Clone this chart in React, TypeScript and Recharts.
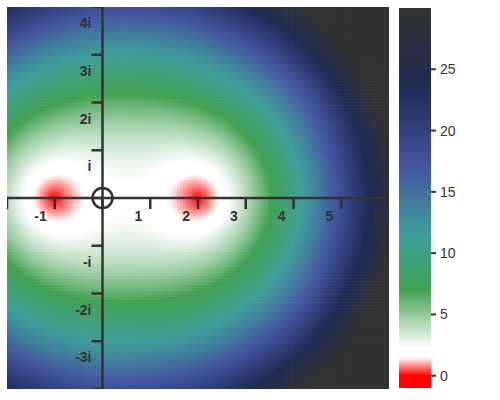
import React from "react";
import { ScatterChart, Scatter, XAxis, YAxis, BarChart, Bar } from "recharts";

// plane window of the plot
const X_DOMAIN = [-2, 6];
const Y_DOMAIN = [-4, 4];
const ROOTS = [-1, 2];
const STEP = 1 / 16;

const REAL_TICKS = [-2, -1, 0, 1, 2, 3, 4, 5, 6];
const REAL_LABELS = ["", "-1", "", "1", "2", "3", "4", "5", "6"];
const IMAG_TICKS = [-4, -3, -2, -1, 0, 1, 2, 3, 4];
const IMAG_LABELS = ["", "-3i", "-2i", "-i", "", "i", "2i", "3i", "4i"];

// colour scale for |f(z)|
const SCALE_VALUES = [-1, 0, 1.5, 2.3, 7, 11.3, 17, 23.5, 30];
const SCALE_COLORS = ["#ff0000", "#ff0000", "#ffffff", "#ffffff", "#42a052", "#3f9f9a", "#4356a0", "#1f2a55", "#333333"];
const BAR_RANGE = [-1, 30];
const BAR_TICKS = [0, 5, 10, 15, 20, 25];

const INK = "#333333";
const FONT = "'Liberation Sans', Arial, sans-serif";
const PLOT = 382;
const CELL_PX = (PLOT / (X_DOMAIN[1] - X_DOMAIN[0])) * STEP + 0.6;

function hexRgb(h: string) {
  return [1, 3, 5].map((i) => parseInt(h.slice(i, i + 2), 16));
}

function colorFor(v: number) {
  if (v <= SCALE_VALUES[0]) return SCALE_COLORS[0];
  for (let i = 1; i < SCALE_VALUES.length; i++) {
    if (v <= SCALE_VALUES[i]) {
      const t = (v - SCALE_VALUES[i - 1]) / (SCALE_VALUES[i] - SCALE_VALUES[i - 1]);
      const a = hexRgb(SCALE_COLORS[i - 1]);
      const b = hexRgb(SCALE_COLORS[i]);
      const c = a.map((x, k) => Math.round(x + (b[k] - x) * t));
      return `rgb(${c[0]},${c[1]},${c[2]})`;
    }
  }
  return SCALE_COLORS[SCALE_COLORS.length - 1];
}

const cells: { x: number; y: number; fill: string }[] = [];
const nx = Math.round((X_DOMAIN[1] - X_DOMAIN[0]) / STEP);
const ny = Math.round((Y_DOMAIN[1] - Y_DOMAIN[0]) / STEP);
for (let j = 0; j < ny; j++) {
  for (let i = 0; i < nx; i++) {
    const x = X_DOMAIN[0] + (i + 0.5) * STEP;
    const y = Y_DOMAIN[0] + (j + 0.5) * STEP;
    const mod = ROOTS.reduce((p, r) => p * Math.hypot(x - r, y), 1);
    cells.push({ x, y, fill: colorFor(mod) });
  }
}

const realTicks = REAL_TICKS.map((x, i) => ({ x, y: 0, label: REAL_LABELS[i] }));
const imagTicks = IMAG_TICKS.map((y, i) => ({ x: 0, y, label: IMAG_LABELS[i] }));

const CellShape = (p: any) => (
  <rect x={p.cx - CELL_PX / 2} y={p.cy - CELL_PX / 2} width={CELL_PX} height={CELL_PX} fill={p.payload.fill} />
);

const RealTick = (p: any) => (
  <g>
    <line x1={p.cx} y1={p.cy} x2={p.cx} y2={p.cy + 11} stroke={INK} strokeWidth={2.5} />
    <text x={p.cx - 8} y={p.cy + 23} textAnchor="end" fontSize={14} fontWeight="bold" fill={INK} fontFamily={FONT}>
      {p.payload.label}
    </text>
  </g>
);

const ImagTick = (p: any) => (
  <g>
    <line x1={p.cx - 11} y1={p.cy} x2={p.cx} y2={p.cy} stroke={INK} strokeWidth={2.5} />
    <text x={p.cx - 11} y={p.cy + 21} textAnchor="end" fontSize={14} fontWeight="bold" fill={INK} fontFamily={FONT}>
      {p.payload.label}
    </text>
  </g>
);

const Origin = (p: any) => <circle cx={p.cx} cy={p.cy} r={10} fill="none" stroke={INK} strokeWidth={2.5} />;

const barData = [{ name: "scale", v: BAR_RANGE }];
const span = BAR_RANGE[1] - BAR_RANGE[0];
const axisLine = { stroke: INK, strokeWidth: 2.5 };

export default function App() {
  return (
    <div style={{ position: "absolute", left: 0, top: 0, width: 500, height: 400, background: "#fff" }}>
      <ScatterChart width={500} height={400} margin={{ top: 7, left: 7, right: 111, bottom: 11 }}>
        <XAxis type="number" dataKey="x" domain={X_DOMAIN} hide allowDataOverflow />
        <YAxis type="number" dataKey="y" domain={Y_DOMAIN} hide allowDataOverflow />
        <Scatter data={cells} shape={CellShape} isAnimationActive={false} />
        <Scatter data={realTicks} shape={RealTick} line={axisLine} isAnimationActive={false} />
        <Scatter data={imagTicks} shape={ImagTick} line={axisLine} isAnimationActive={false} />
        <Scatter data={[{ x: 0, y: 0 }]} shape={Origin} isAnimationActive={false} />
      </ScatterChart>
      <div style={{ position: "absolute", left: 399, top: 0 }}>
        <BarChart width={101} height={400} data={barData} margin={{ top: 8, bottom: 12, left: 0, right: 0 }} barCategoryGap={0}>
          <defs>
            <linearGradient id="cbar" x1="0" y1="0" x2="0" y2="1">
              {SCALE_VALUES.map((v, i) => i)
                .reverse()
                .map((i) => (
                  <stop key={i} offset={(BAR_RANGE[1] - SCALE_VALUES[i]) / span} stopColor={SCALE_COLORS[i]} />
                ))}
            </linearGradient>
          </defs>
          <XAxis dataKey="name" hide />
          <YAxis
            orientation="right"
            type="number"
            domain={BAR_RANGE}
            ticks={BAR_TICKS}
            allowDataOverflow
            width={69}
            axisLine={false}
            tickSize={5}
            tickMargin={4}
            tickLine={{ stroke: INK, strokeWidth: 2 }}
            tick={{ fontSize: 14, fill: INK, fontFamily: FONT }}
          />
          <Bar dataKey="v" fill="url(#cbar)" isAnimationActive={false} />
        </BarChart>
      </div>
    </div>
  );
}
